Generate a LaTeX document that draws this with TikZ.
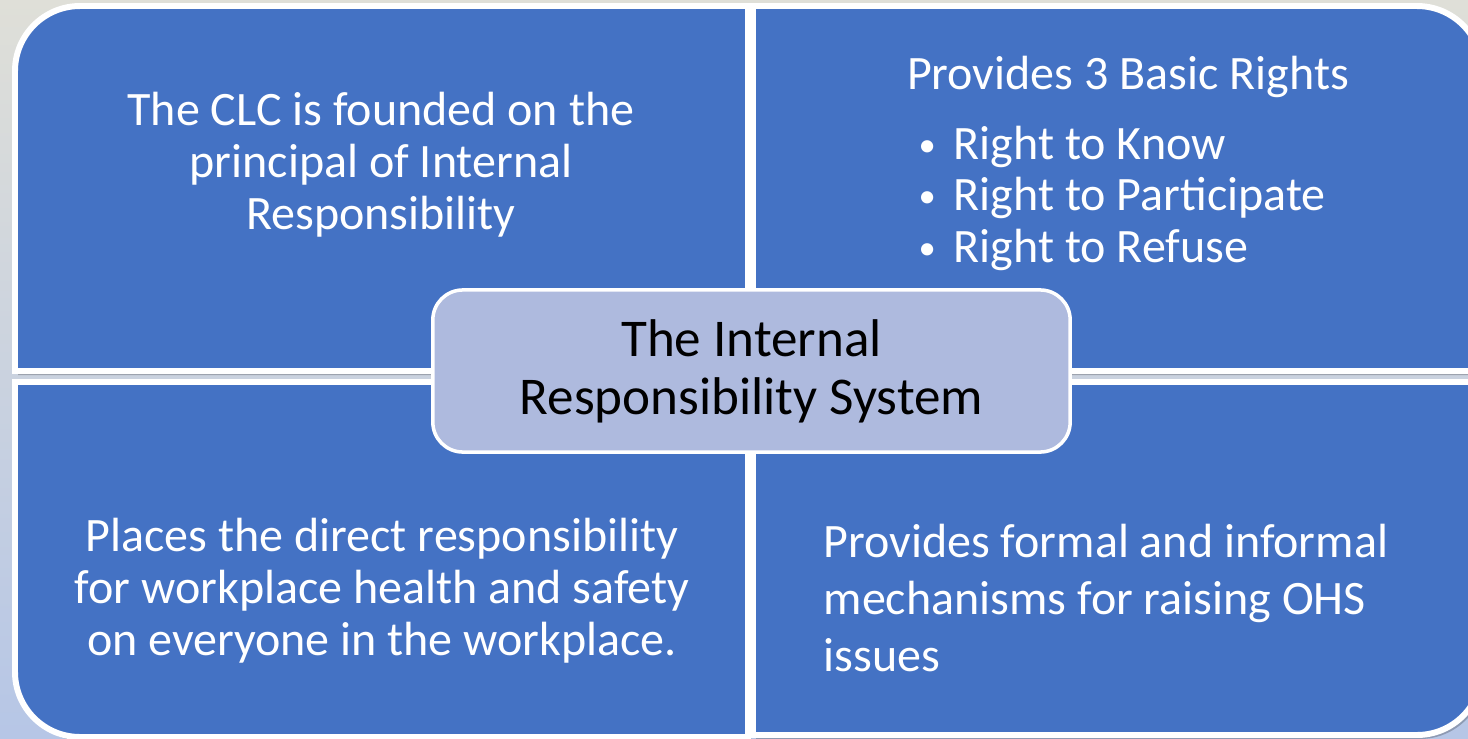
\documentclass[tikz,border=0pt]{standalone}
\usepackage{fontspec}
\setmainfont{Carlito}
\usepackage{tikz}
\usetikzlibrary{positioning,calc}
\definecolor{quadblue}{RGB}{68,114,196}
\definecolor{centerblue}{RGB}{174,186,222}
\definecolor{bgtop}{RGB}{223,223,216}
\definecolor{bgbot}{RGB}{182,198,230}
\newcommand{\rightdot}{\makebox[0.38cm][l]{\hspace{0.03cm}\raisebox{0.06em}{\scalebox{0.72}{•}}}}

\begin{document}
\begin{tikzpicture}[x=0.01cm, y=-0.01cm,
    quad/.style={fill=quadblue, draw=white, line width=1.7pt},
    quadshadow/.style={fill=black, opacity=0.22},
    quadtext/.style={text=white, font=\fontsize{13.65}{14.8}\selectfont, inner sep=0pt},
    bullet/.style={quadtext, anchor=base west},
    hub/.style={rectangle, rounded corners=0.3cm, fill=centerblue, draw=white, line width=1pt,
                minimum width=6.37cm, minimum height=1.62cm, align=center,
                font=\fontsize{15.1}{16.5}\selectfont}
]

% Background
\shade[top color=bgtop, bottom color=bgbot] (0,0) rectangle (1468,739);
\useasboundingbox (0,0) rectangle (1468,739);

% Shadows
\begin{scope}[shift={(3,4)}]
\fill[quadshadow] (15,371) {[rounded corners=0.65cm] -- (15,6)} -- (748,6) -- (748,371) -- cycle;
\fill[quadshadow] (753,371) -- (753,6) {[rounded corners=0.65cm] -- (1482,6)} -- (1482,371) -- cycle;
\fill[quadshadow] (748,382) -- (15,382) {[rounded corners=0.65cm] -- (15,737)} -- (748,737) -- cycle;
\fill[quadshadow] (753,382) -- (753,735) {[rounded corners=0.65cm] -- (1482,735)} -- (1482,382) -- cycle;
\end{scope}

% Quadrants
\draw[quad] (15,371) {[rounded corners=0.65cm] -- (15,6)} -- (748,6) -- (748,371) -- cycle;
\draw[quad] (753,371) -- (753,6) {[rounded corners=0.65cm] -- (1482,6)} -- (1482,371) -- cycle;
\draw[quad] (748,382) -- (15,382) {[rounded corners=0.65cm] -- (15,737)} -- (748,737) -- cycle;
\draw[quad] (753,382) -- (753,735) {[rounded corners=0.65cm] -- (1482,735)} -- (1482,382) -- cycle;

% Texts
\node[quadtext, align=center] (founded) at (381,165)
    {The CLC is founded on the\\principal of Internal\\Responsibility};
\node[quadtext] (rights) at (1128,77) {Provides 3 Basic Rights};
\node[bullet] (know) at (915,159) {\rightdot Right to Know};
\node[bullet] (participate) at (915,210) {\rightdot Right to Participate};
\node[bullet] (refuse) at (915,262) {\rightdot Right to Refuse};
\node[quadtext, align=center] (places) at (382,591)
    {Places the direct responsibility\\for workplace health and safety\\on everyone in the workplace.};
\node[quadtext, align=left, anchor=west, font=\fontsize{13.65}{16.2}\selectfont] (mechs) at (823,598)
    {Provides formal and informal\\mechanisms for raising OHS\\issues};

% Centre
\node[hub] (irs) at (751.5,371) {The Internal\\Responsibility System};

\end{tikzpicture}
\end{document}
